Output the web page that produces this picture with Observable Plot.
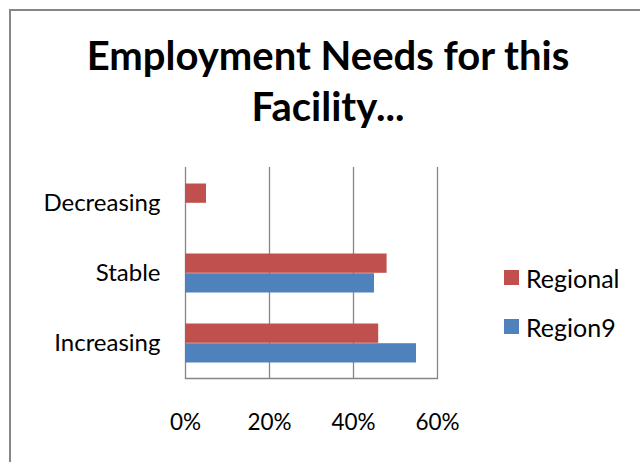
<!DOCTYPE html>
<html>
<head>
<meta charset="utf-8">
<script src="https://cdn.jsdelivr.net/npm/d3@7"></script>
<script src="https://cdn.jsdelivr.net/npm/@observablehq/plot@0.6"></script>
<style>
  html, body { margin: 0; padding: 0; background: #fff; }
  #wrap { position: relative; width: 640px; height: 462px; overflow: hidden; font-family: Lato, "Open Sans", sans-serif; }
  #border { position: absolute; left: 9px; top: 9px; width: 700px; height: 600px; border-left: 2px solid #868686; border-top: 2px solid #868686; }
  #chart { position: absolute; left: 0; top: 0; }
  #title { position: absolute; left: 0; top: 30px; width: 656px; text-align: center; font-weight: bold; font-size: 40px; line-height: 51px; color: #000; }
  #legend { position: absolute; left: 504px; top: 253px; font-size: 25px; color: #000; }
  .item { display: flex; align-items: center; height: 49px; }
  .sw { width: 15px; height: 15px; margin-right: 7px; }
  #chart svg g[aria-label="y-axis tick label"] text { font-size: 24px; }
</style>
</head>
<body>
<div id="wrap">
  <div id="border"></div>
  <div id="chart"></div>
  <div id="title">Employment Needs for this<br>Facility...</div>
  <div id="legend"></div>
</div>
<script>
const categories = ["Decreasing", "Stable", "Increasing"];
const seriesNames = ["Regional", "Region9"];
const seriesColors = ["#C0504D", "#4F81BD"];
const regionalValues = [0.05, 0.48, 0.46];
const region9Values = [0.00, 0.45, 0.55];
const xTicks = [0, 0.2, 0.4, 0.6];

const regionalData = categories.map((c, i) => ({category: c, series: "Regional", value: regionalValues[i]}));
const region9Data = categories.map((c, i) => ({category: c, series: "Region9", value: region9Values[i]}));

const chart = Plot.plot({
  width: 640,
  height: 462,
  marginLeft: 185,
  marginRight: 203,
  marginTop: 167,
  marginBottom: 84,
  style: {fontFamily: "Lato, 'Open Sans', sans-serif", fontSize: "22.5px", color: "#000", background: "transparent"},
  x: {domain: [0, 0.6], ticks: xTicks, tickFormat: d => Math.round(d * 100) + "%", tickSize: 0, tickPadding: 36, label: null},
  y: {domain: categories, padding: 0, tickSize: 0, tickPadding: 25, label: null},
  color: {domain: seriesNames, range: seriesColors},
  marks: [
    Plot.ruleX(xTicks, {stroke: "#868686", strokeWidth: 1.3}),
    Plot.frame({anchor: "bottom", stroke: "#868686", strokeWidth: 1.3}),
    Plot.barX(regionalData, {x: "value", y: "category", fill: d => d.series, insetTop: 15.5, insetBottom: 35.2}),
    Plot.barX(region9Data, {x: "value", y: "category", fill: d => d.series, insetTop: 35.2, insetBottom: 15.5})
  ]
});
document.getElementById("chart").appendChild(chart);

const legend = document.getElementById("legend");
seriesNames.forEach((name, i) => {
  const item = document.createElement("div");
  item.className = "item";
  const sw = document.createElement("div");
  sw.className = "sw";
  sw.style.background = seriesColors[i];
  const label = document.createElement("span");
  label.textContent = name;
  item.appendChild(sw);
  item.appendChild(label);
  legend.appendChild(item);
});
</script>
</body>
</html>
